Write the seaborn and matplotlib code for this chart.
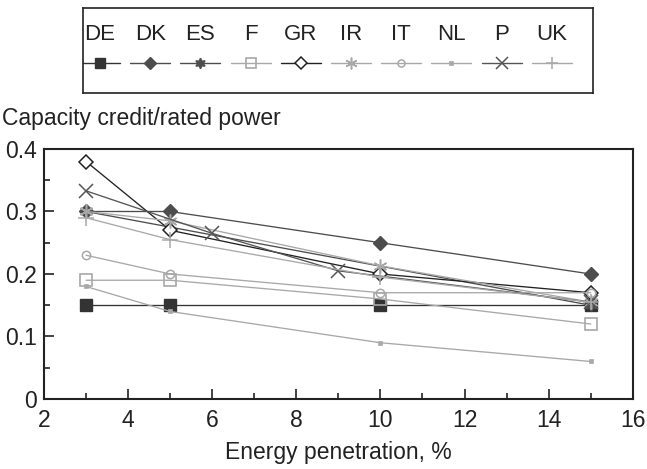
import matplotlib
matplotlib.use("Agg")
import matplotlib.pyplot as plt
from matplotlib.ticker import MultipleLocator
from matplotlib.lines import Line2D
import seaborn as sns
import pandas as pd

sns.set_theme(style="white")
plt.rcParams["font.family"] = ["Liberation Sans", "DejaVu Sans"]

# Capacity credit (relative to rated power) versus wind energy penetration
countries = ["DE", "DK", "ES", "F", "GR", "IR", "IT", "NL", "P", "UK"]
penetration = {
    "DE": [3, 5, 10, 15],
    "DK": [3, 5, 10, 15],
    "ES": [3, 15],
    "F":  [3, 5, 10, 15],
    "GR": [3, 5, 10, 15],
    "IR": [3, 5, 10, 15],
    "IT": [3, 5, 10, 15],
    "NL": [3, 5, 10, 15],
    "P":  [3, 6, 9, 15],
    "UK": [3, 5, 10, 15],
}
capacity_credit = {
    "DE": [0.15, 0.15, 0.15, 0.15],
    "DK": [0.30, 0.30, 0.25, 0.20],
    "ES": [0.30, 0.15],
    "F":  [0.19, 0.19, 0.16, 0.12],
    "GR": [0.38, 0.27, 0.20, 0.17],
    "IR": [0.30, 0.285, 0.213, 0.155],
    "IT": [0.23, 0.20, 0.17, 0.17],
    "NL": [0.18, 0.14, 0.09, 0.06],
    "P":  [0.333, 0.265, 0.205, 0.155],
    "UK": [0.29, 0.255, 0.195, 0.155],
}

styles = {
    "DE": dict(color="#333333", marker="s", ms=8.5, mfc="#333333", mec="#333333", mew=1.0),
    "DK": dict(color="#4d4d4d", marker="D", ms=7, mfc="#4d4d4d", mec="#4d4d4d", mew=1.0),
    "ES": dict(color="#4d4d4d", marker=(6, 1, 0), ms=9, mfc="#4d4d4d", mec="#4d4d4d", mew=1.0),
    "F":  dict(color="#a8a8a8", marker="s", ms=8.5, mfc="none", mec="#a8a8a8", mew=1.2),
    "GR": dict(color="#222222", marker="D", ms=7, mfc="white", mec="#222222", mew=1.1),
    "IR": dict(color="#a8a8a8", marker=(6, 2, 0), ms=10, mfc="none", mec="#a8a8a8", mew=1.1),
    "IT": dict(color="#a8a8a8", marker="o", ms=6, mfc="none", mec="#a8a8a8", mew=1.1),
    "NL": dict(color="#a8a8a8", marker="s", ms=3.5, mfc="#a8a8a8", mec="#a8a8a8", mew=0.5),
    "P":  dict(color="#555555", marker="x", ms=10, mfc="none", mec="#555555", mew=1.1),
    "UK": dict(color="#a8a8a8", marker="+", ms=11, mfc="none", mec="#a8a8a8", mew=1.1),
}

fig = plt.figure(figsize=(6.47, 4.69), dpi=100)
ax = fig.add_axes([0.068, 0.1493, 0.910, 0.533])

for c in countries:
    df = pd.DataFrame({"x": penetration[c], "y": capacity_credit[c]})
    st = styles[c]
    sns.lineplot(data=df, x="x", y="y", ax=ax, color=st["color"], lw=0.95,
                 marker=st["marker"], markersize=st["ms"],
                 markerfacecolor=st["mfc"], markeredgecolor=st["mec"],
                 markeredgewidth=st["mew"], legend=False)

ax.set_xlim(2, 16)
ax.set_ylim(0, 0.4)
ax.xaxis.set_major_locator(MultipleLocator(2))
ax.xaxis.set_minor_locator(MultipleLocator(1))
ax.yaxis.set_major_locator(MultipleLocator(0.1))
ax.yaxis.set_minor_locator(MultipleLocator(0.05))
ax.yaxis.set_major_formatter(plt.FuncFormatter(lambda v, p: "0" if v == 0 else f"{v:.1f}"))
ax.tick_params(axis="both", which="major", direction="in", length=7, width=1.2,
               colors="#222222", labelsize=16.5, bottom=True, left=True,
               top=False, right=False)
ax.tick_params(axis="x", which="major", pad=7)
ax.tick_params(axis="y", which="major", pad=5)
ax.tick_params(axis="both", which="minor", direction="in", length=4, width=1.2,
               color="#222222", bottom=True, left=True, top=False, right=False)
for s in ax.spines.values():
    s.set_color("#222222")
    s.set_linewidth(1.5)
ax.set_xlabel("Energy penetration, %", fontsize=16.5, color="#222222", labelpad=7)
ax.set_ylabel("")
fig.text(0.003, 0.748, "Capacity credit/rated power", fontsize=16.5,
         color="#222222", va="center", ha="left")

# Legend box: country names above their line samples
lax = fig.add_axes([83 / 647, 1 - 93 / 469, 510 / 647, 85 / 469])
lax.set_xlim(0, 510)
lax.set_ylim(85, 0)
lax.set_xticks([])
lax.set_yticks([])
for s in lax.spines.values():
    s.set_color("#222222")
    s.set_linewidth(1.2)
for i, c in enumerate(countries):
    cx = 17 + i * 50.2
    st = styles[c]
    lax.text(cx, 27, c, fontsize=16, color="#222222", ha="center", va="center")
    lax.add_line(Line2D([cx - 20, cx + 20], [55, 55], color=st["color"], lw=1.0))
    lax.add_line(Line2D([cx], [55], marker=st["marker"], markersize=st["ms"] * 0.85,
                        markerfacecolor=st["mfc"], markeredgecolor=st["mec"],
                        markeredgewidth=st["mew"], ls="none"))

fig.savefig("out.png", dpi=100)
